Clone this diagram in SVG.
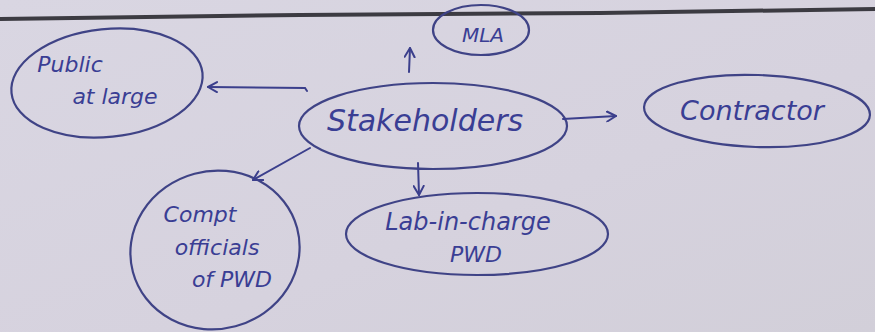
<svg xmlns="http://www.w3.org/2000/svg" width="875" height="332" viewBox="0 0 875 332">
<defs>
<linearGradient id="paper" x1="0" y1="0" x2="1" y2="1">
<stop offset="0" stop-color="#d9d6e2"/>
<stop offset="0.6" stop-color="#d6d2de"/>
<stop offset="1" stop-color="#d2cfd9"/>
</linearGradient>
<marker id="ah" viewBox="0 0 12 12" refX="10" refY="6" markerWidth="12" markerHeight="12" markerUnits="userSpaceOnUse" orient="auto">
<path d="M1,1 L10,6 L1,11" fill="none" stroke="#3b3f8c" stroke-width="2" stroke-linecap="round" stroke-linejoin="round"/>
</marker>
<style>
.node{fill:none;stroke:#3f4386;stroke-width:2.2}
.lbl{font-family:"DejaVu Sans",sans-serif;font-style:italic;fill:#3a3e94;text-anchor:middle}
.con{fill:none;stroke:#3b3f8c;stroke-width:2;stroke-linecap:round;marker-end:url(#ah)}
</style>
</defs>
<rect width="875" height="332" fill="url(#paper)"/>
<path d="M0,19 L300,15 L600,13 L875,9" stroke="#3c3b42" stroke-width="4" fill="none"/>
<g id="public">
<ellipse class="node" cx="107" cy="83" rx="96" ry="54" transform="rotate(-6 107 83)"/>
<text class="lbl" x="70" y="72" font-size="22">Public</text>
<text class="lbl" x="115" y="104" font-size="22">at large</text>
</g>
<g id="mla">
<ellipse class="node" cx="481" cy="30" rx="48" ry="25"/>
<text class="lbl" x="483" y="42" font-size="20">MLA</text>
</g>
<g id="stakeholders">
<ellipse class="node" cx="433" cy="126" rx="134" ry="43"/>
<text class="lbl" x="425" y="131" font-size="30">Stakeholders</text>
</g>
<g id="contractor">
<ellipse class="node" cx="757" cy="111" rx="113" ry="36" transform="rotate(2 757 111)"/>
<text class="lbl" x="752" y="120" font-size="27">Contractor</text>
</g>
<g id="officials">
<ellipse class="node" cx="215" cy="250" rx="85" ry="79" transform="rotate(-15 215 250)"/>
<text class="lbl" x="200" y="222" font-size="22">Compt</text>
<text class="lbl" x="217" y="255" font-size="22">officials</text>
<text class="lbl" x="232" y="287" font-size="22">of PWD</text>
</g>
<g id="lab">
<ellipse class="node" cx="477" cy="234" rx="131" ry="41"/>
<text class="lbl" x="468" y="230" font-size="24">Lab-in-charge</text>
<text class="lbl" x="476" y="262" font-size="22">PWD</text>
</g>
<g id="connectors">
<path class="con" d="M307,91 L305,88 L208,87"/>
<path class="con" d="M409,72 L410,48"/>
<path class="con" d="M563,119 L616,116"/>
<path class="con" d="M310,148 L253,180"/>
<path class="con" d="M418,163 L419,195"/>
</g>
</svg>
